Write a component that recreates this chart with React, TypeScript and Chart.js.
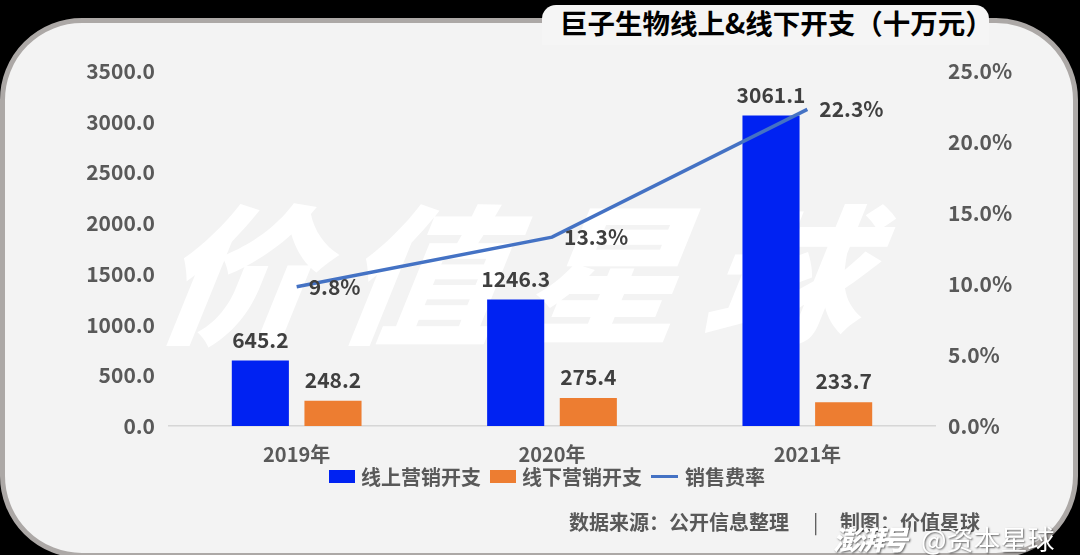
import React, { useEffect, useRef } from "react";
import { Chart, registerables } from "chart.js";

Chart.register(...registerables);

const categories = ["2019年", "2020年", "2021年"];
const onlineSpend = [645.2, 1246.3, 3061.1];
const offlineSpend = [248.2, 275.4, 233.7];
const salesRate = [9.8, 13.3, 22.3];
const seriesNames = ["线上营销开支", "线下营销开支", "销售费率"];
const seriesColors = ["#0022F2", "#ED7D31", "#4472C4"];
const titleText = "巨子生物线上&线下开支（十万元）";
const sourceText = "数据来源：公开信息整理";
const makerText = "制图：价值星球";
const watermarkText = "价值星球";

const FONT = "'Noto Sans CJK SC', 'Noto Sans', sans-serif";

const valueLabelPlugin = {
  id: "valueLabels",
  afterDatasetsDraw(chart: any) {
    const ctx = chart.ctx;
    ctx.save();
    ctx.font = `bold 21px ${FONT}`;
    ctx.fillStyle = "#3f3f3f";
    chart.data.datasets.forEach((ds: any, i: number) => {
      const meta = chart.getDatasetMeta(i);
      meta.data.forEach((el: any, j: number) => {
        const v = ds.data[j] as number;
        if (ds.type === "line") {
          ctx.textAlign = "left";
          ctx.textBaseline = "middle";
          ctx.fillText(v.toFixed(1) + "%", el.x + 12, el.y);
        } else {
          ctx.textAlign = "center";
          ctx.textBaseline = "middle";
          ctx.fillText(v.toFixed(1), el.x, el.y - 21);
        }
      });
    });
    ctx.restore();
  },
};

export default function App() {
  const canvasRef = useRef<HTMLCanvasElement | null>(null);

  useEffect(() => {
    if (!canvasRef.current) return;
    const tickFont = { family: FONT, size: 21, weight: "bold" as const };
    const chart = new Chart(canvasRef.current, {
      type: "bar",
      data: {
        labels: categories,
        datasets: [
          {
            type: "line" as const,
            label: seriesNames[2],
            data: salesRate,
            borderColor: seriesColors[2],
            backgroundColor: seriesColors[2],
            borderWidth: 3.5,
            pointRadius: 0,
            tension: 0,
            yAxisID: "y1",
            order: 0,
          },
          {
            type: "bar" as const,
            label: seriesNames[0],
            data: onlineSpend,
            backgroundColor: seriesColors[0],
            yAxisID: "y",
            order: 1,
            categoryPercentage: 0.569,
            barPercentage: 0.786,
          },
          {
            type: "bar" as const,
            label: seriesNames[1],
            data: offlineSpend,
            backgroundColor: seriesColors[1],
            yAxisID: "y",
            order: 1,
            categoryPercentage: 0.569,
            barPercentage: 0.786,
          },
        ] as any,
      },
      options: {
        responsive: false,
        animation: false,
        devicePixelRatio: 1,
        layout: { padding: { top: 71, bottom: 79, left: 0, right: 0 } },
        plugins: {
          legend: { display: false },
          tooltip: { enabled: false },
          title: { display: false },
        },
        scales: {
          x: {
            grid: { display: false, drawTicks: false },
            border: { display: true, color: "#d6d6d6", width: 1.5 },
            ticks: { font: { family: FONT, size: 20, weight: "bold" }, color: "#595959", padding: 16 },
            afterFit: (s: any) => {
              s.height = 50;
            },
          },
          y: {
            position: "left",
            min: 0,
            max: 3500,
            grid: { display: false, drawTicks: false },
            border: { display: false },
            ticks: {
              stepSize: 500,
              font: tickFont,
              color: "#595959",
              padding: 14,
              callback: (v: any) => Number(v).toFixed(1),
            },
            afterFit: (s: any) => {
              s.width = 169;
            },
          },
          y1: {
            position: "right",
            min: 0,
            max: 25,
            grid: { display: false, drawTicks: false },
            border: { display: false },
            ticks: {
              stepSize: 5,
              font: tickFont,
              color: "#595959",
              padding: 13,
              callback: (v: any) => Number(v).toFixed(1) + "%",
            },
            afterFit: (s: any) => {
              s.width = 145;
            },
          },
        } as any,
      },
      plugins: [valueLabelPlugin],
    });
    return () => chart.destroy();
  }, []);

  const legendItems = seriesNames.map((name, i) => (
    <div key={name} style={{ display: "flex", alignItems: "center", marginRight: i < 2 ? 9 : 0 }}>
      {i < 2 ? (
        <div style={{ width: 26, height: 13, background: seriesColors[i], marginRight: 6 }} />
      ) : (
        <div style={{ width: 27, height: 3.5, background: seriesColors[i], marginRight: 7 }} />
      )}
      <span>{name}</span>
    </div>
  ));

  return (
    <div
      style={{
        position: "fixed",
        left: 0,
        top: 0,
        width: 1080,
        height: 555,
        background: "#000",
        overflow: "hidden",
        fontFamily: FONT,
      }}
    >
      <div
        style={{
          position: "absolute",
          left: 0,
          top: 18,
          width: 1078,
          height: 540,
          boxSizing: "border-box",
          border: "5px solid #aca8a6",
          borderRadius: 82,
          background: "#f3f3f3",
        }}
      />
      <div
        style={{
          position: "absolute",
          left: 542,
          top: 5,
          width: 447,
          height: 40,
          background: "#f5f5f5",
          borderRadius: "14px 14px 0 0",
        }}
      />
      <div
        style={{
          position: "absolute",
          left: 560,
          top: 4,
          height: 36,
          lineHeight: "36px",
          fontSize: 27.5,
          fontWeight: 700,
          color: "#000",
          whiteSpace: "nowrap",
        }}
      >
        {titleText}
      </div>
      <div
        style={{
          position: "absolute",
          left: 172,
          top: 187,
          fontSize: 150,
          lineHeight: "160px",
          fontWeight: 900,
          fontStyle: "italic",
          color: "#ffffff",
          letterSpacing: 22,
          whiteSpace: "nowrap",
          transform: "skewX(-8deg) scaleX(1.06)",
          transformOrigin: "left top",
        }}
      >
        {watermarkText}
      </div>
      <canvas
        ref={canvasRef}
        width={1080}
        height={555}
        style={{ position: "absolute", left: 0, top: 0, width: 1080, height: 555 }}
      />
      <div
        style={{
          position: "absolute",
          left: 329,
          top: 464,
          height: 25,
          display: "flex",
          alignItems: "center",
          fontSize: 20,
          fontWeight: 700,
          color: "#595959",
          whiteSpace: "nowrap",
        }}
      >
        {legendItems}
      </div>
      <div
        style={{
          position: "absolute",
          left: 569,
          top: 509,
          fontSize: 20,
          lineHeight: "26px",
          fontWeight: 700,
          color: "#595959",
          whiteSpace: "nowrap",
        }}
      >
        {sourceText}
      </div>
      <div
        style={{
          position: "absolute",
          left: 813,
          top: 509,
          fontSize: 20,
          lineHeight: "26px",
          fontWeight: 400,
          color: "#595959",
        }}
      >
        |
      </div>
      <div
        style={{
          position: "absolute",
          left: 840,
          top: 509,
          fontSize: 20,
          lineHeight: "26px",
          fontWeight: 700,
          color: "#595959",
          whiteSpace: "nowrap",
        }}
      >
        {makerText}
      </div>
      <div
        style={{
          position: "absolute",
          left: 833,
          top: 522,
          fontSize: 27,
          lineHeight: "34px",
          color: "#ffffff",
          whiteSpace: "nowrap",
          textShadow: "1px 1px 2px rgba(0,0,0,0.6)",
        }}
      >
        <span style={{ fontStyle: "italic", fontWeight: 900, letterSpacing: -3 }}>澎湃号</span>
        <span style={{ marginLeft: 16, fontWeight: 400 }}>@资本星球</span>
      </div>
    </div>
  );
}
